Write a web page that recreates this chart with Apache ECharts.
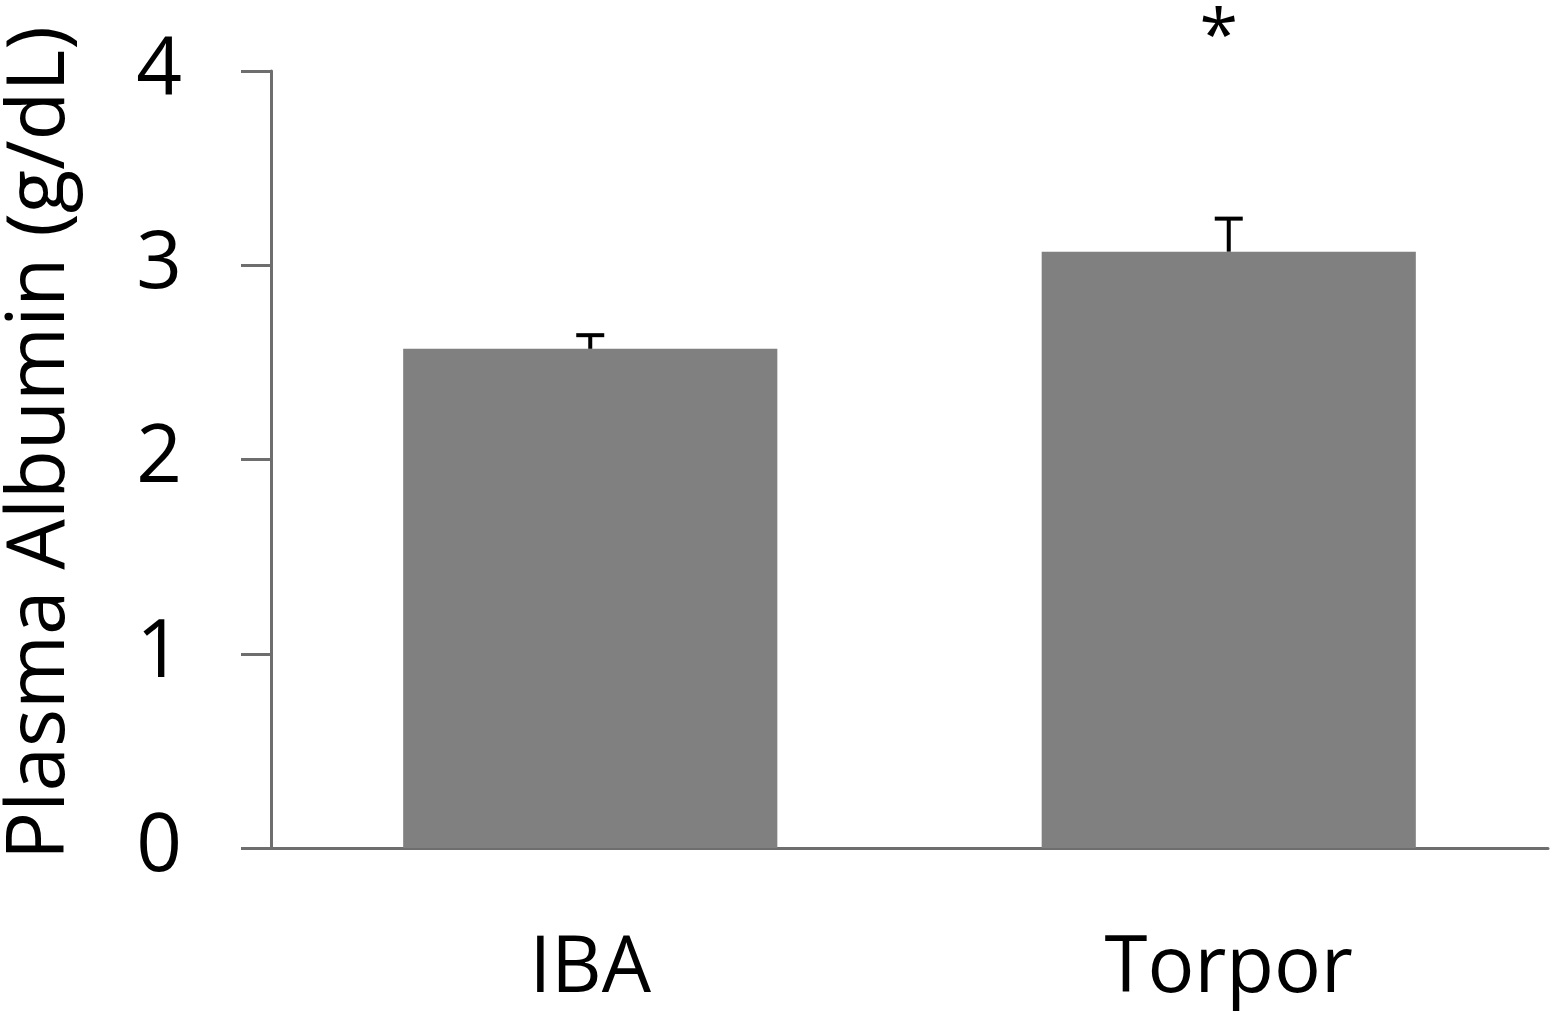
<!DOCTYPE html>
<html><head><meta charset="utf-8">
<script src="https://cdn.jsdelivr.net/npm/echarts@6/dist/echarts.min.js"></script>
<style>html,body{margin:0;padding:0;background:#fff}#c{width:1554px;height:1015px}</style>
</head><body><div id="c"></div>
<script>
const categories = ['IBA', 'Torpor'];
const means = [2.57, 3.07];
const errUpper = [2.64, 3.24];
const signif = ['', '*'];
const yTicks = [0, 1, 2, 3, 4];
const yTitle = 'Plasma Albumin (g/dL)';

const font = 'Open Sans, Lato, sans-serif';
const chart = echarts.init(document.getElementById('c'));
chart.setOption({
  animation: false,
  grid: { left: 271, right: 6, top: 71, bottom: 167, containLabel: false, outerBoundsMode: 'none' },
  xAxis: {
    type: 'category', data: categories,
    axisLine: { lineStyle: { color: '#6e6e6e', width: 3 } },
    axisTick: { show: false },
    axisLabel: { color: '#000', fontSize: 78, fontFamily: font, margin: 83 }
  },
  yAxis: {
    type: 'value', min: yTicks[0], max: yTicks[yTicks.length - 1], interval: 1,
    name: yTitle, nameLocation: 'middle', nameGap: 190,
    nameTextStyle: { color: '#000', fontSize: 80, fontFamily: font, padding: [0, 0, 0, 33] },
    axisLine: { show: true, lineStyle: { color: '#6e6e6e', width: 3 } },
    axisTick: { show: true, length: 30, lineStyle: { color: '#6e6e6e', width: 3 } },
    axisLabel: { color: '#000', fontSize: 80, fontFamily: font, margin: 89 },
    splitLine: { show: false }
  },
  series: [
    {
      type: 'bar', data: means, barWidth: '58.6%',
      itemStyle: { color: '#808080' }
    },
    {
      type: 'custom',
      data: categories.map((c, i) => [i, means[i], errUpper[i]]),
      renderItem: function (params, api) {
        const i = api.value(0);
        const base = api.coord([i, api.value(1)]);
        const top = api.coord([i, api.value(2)]);
        const hw = 14;
        const children = [
          { type: 'line', shape: { x1: base[0], y1: base[1], x2: top[0], y2: top[1] }, style: { stroke: '#000', lineWidth: 4 } },
          { type: 'line', shape: { x1: top[0] - hw, y1: top[1], x2: top[0] + hw, y2: top[1] }, style: { stroke: '#000', lineWidth: 4 } }
        ];
        if (signif[i]) {
          const p = api.coord([i, 4]);
          children.push({ type: 'text', style: { text: signif[i], x: p[0] - 10, y: p[1] - 32, fontSize: 70, fontFamily: font, fill: '#000', align: 'center', verticalAlign: 'middle' } });
        }
        return { type: 'group', children: children };
      },
      z: 10
    }
  ]
});
</script></body></html>
